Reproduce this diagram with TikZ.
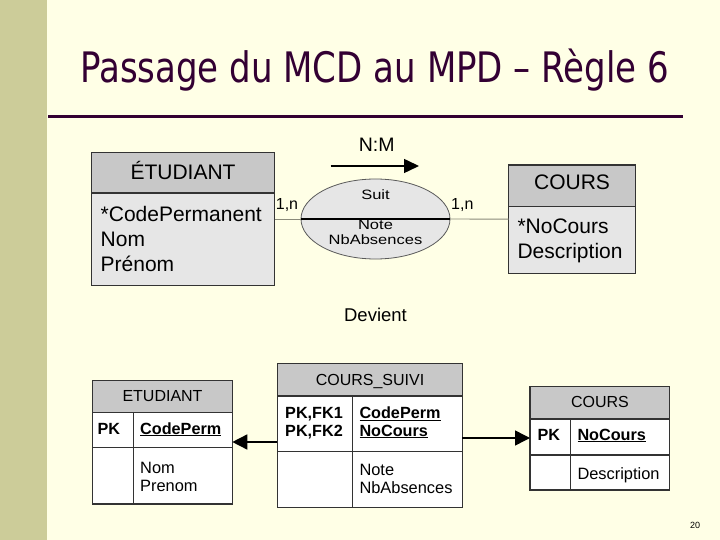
\documentclass[tikz,border=0pt]{standalone}
\usepackage{fontspec}
\setmainfont{Liberation Sans}
\newfontfamily\titlefont{DejaVu Sans}[FakeStretch=0.81]
\usetikzlibrary{arrows.meta,shapes.geometric}
\definecolor{bg}{HTML}{FFFFE6}
\definecolor{band}{HTML}{CCCC99}
\definecolor{titlecol}{HTML}{330033}
\definecolor{hdr}{HTML}{C8C8C8}
\definecolor{bodyc}{HTML}{E6E6E6}
\definecolor{edge}{HTML}{333333}
\definecolor{linkc}{HTML}{8A8A7A}
\newcommand{\fs}[1]{\fontsize{#1}{#1}\selectfont}
\newcommand{\squash}[1]{\scalebox{1}[0.82]{#1}}
\begin{document}
\begin{tikzpicture}[x=1pt,y=-1pt,
  boxc/.style={draw=edge, line width=1.3pt, anchor=north west, inner sep=0pt, outer sep=0pt},
  hd/.style={anchor=base, inner sep=0pt, font=\fs{21}},
  bt/.style={anchor=base west, inner sep=0pt, font=\fs{21}},
  thd/.style={anchor=base, inner sep=0pt, font=\fs{16}},
  tt/.style={anchor=base west, inner sep=0pt, font=\fs{16.4}},
  tb/.style={anchor=base west, inner sep=0pt, font=\bfseries\fs{16.2}},
  el/.style={anchor=base, inner sep=0pt, font=\fs{16.5}},
  fk/.style={-{Triangle[length=15pt,width=15pt]}, line width=1.5pt, black}
]
\fill[bg] (0,0) rectangle (720,540);
\useasboundingbox (0,0) rectangle (720,540);
\fill[band] (0,0) rectangle (47,540);
\node[anchor=base west, inner sep=0pt, text=titlecol, font=\titlefont\fs{42}] (title) at (80,83) {Passage du MCD au MPD – Règle 6};
\coordinate (r1) at (48,117);
\coordinate (r2) at (683,117);
\draw[titlecol, line width=3pt] (r1) -- (r2);

% ---- MCD ----
\node[boxc, fill=bodyc, minimum width=183pt, minimum height=133pt] (etu) at (91.5,152.5) {};
\node[boxc, fill=hdr, minimum width=183pt, minimum height=40.5pt] (etuh) at (91.5,152.5) {};
\node[hd] (etut) at (183,180) {ÉTUDIANT};
\node[bt] (etua1) at (100.5,221.7) {*CodePermanent};
\node[bt] (etua2) at (100.5,246.7) {Nom};
\node[bt] (etua3) at (100.5,271.5) {Prénom};

\node[boxc, fill=bodyc, minimum width=127pt, minimum height=108.3pt] (cou) at (508.5,165) {};
\node[boxc, fill=hdr, minimum width=127pt, minimum height=41.7pt] (couh) at (508.5,165) {};
\node[hd] (cout) at (572,190) {COURS};
\node[bt] (coua1) at (517.3,233.3) {*NoCours};
\node[bt] (coua2) at (517.3,258.3) {Description};

\node[ellipse, draw=gray!70!black, line width=0.8pt, fill=bodyc, minimum width=149pt, minimum height=80pt, inner sep=0pt, outer sep=0pt] (suit) at (375.5,219) {};
\draw[linkc, line width=0.9pt] (etu.east) -- (suit.west);
\draw[linkc, line width=0.9pt] (suit.east) -- (cou.west);
\draw[black, line width=1.2pt] (suit.west) -- (suit.east);
\node[el] (suitt) at (375.5,200) {\squash{Suit}};
\node[el] (suita1) at (375.5,229.5) {\squash{Note}};
\node[el] (suita2) at (375.5,244.5) {\squash{NbAbsences}};
\node[anchor=base west, inner sep=0pt, font=\fs{16}] (card1) at (275.7,210) {1,n};
\node[anchor=base west, inner sep=0pt, font=\fs{16}] (card2) at (451,210) {1,n};
\node[anchor=base, inner sep=0pt, font=\fs{19.5}] (nm) at (376.7,151.7) {N:M};
\coordinate (nm1) at (330.7,166);
\coordinate (nm2) at (419,166);
\draw[-{Triangle[length=15pt,width=14pt]}, line width=1.5pt] (nm1) -- (nm2);

\node[anchor=base, inner sep=0pt, font=\fs{18.5}] (devient) at (375.5,321.7) {Devient};

% ---- MPD ----
% ETUDIANT
\node[boxc, fill=white, minimum width=139.6pt, minimum height=123.3pt] (et2) at (92.7,380.7) {};
\node[boxc, fill=hdr, minimum width=139.6pt, minimum height=31.6pt] (et2h) at (92.7,380.7) {};
\draw[edge, line width=1.3pt] (92.7,447.3) -- (232.3,447.3);
\draw[edge, line width=1.3pt] (133.3,412.3) -- (133.3,504);
\node[thd] (et2t) at (162.5,401.7) {ETUDIANT};
\node[tb] (et2pk) at (97.3,434) {PK};
\node[tb] (et2k) at (140,434) {\underline{CodePerm}};
\node[tt] (et2a1) at (140,473.3) {Nom};
\node[tt] (et2a2) at (140,491.7) {Prenom};

% COURS_SUIVI
\node[boxc, fill=white, minimum width=185pt, minimum height=144pt] (cs) at (277.3,363.3) {};
\node[boxc, fill=hdr, minimum width=185pt, minimum height=32.7pt] (csh) at (277.3,363.3) {};
\draw[edge, line width=1.3pt] (277.3,451.7) -- (462.3,451.7);
\draw[edge, line width=1.3pt] (352.3,396) -- (352.3,507.3);
\node[thd] (cst) at (370,385) {COURS\_SUIVI};
\node[tb] (cspk1) at (285,418.3) {PK,FK1};
\node[tb] (cspk2) at (285,436) {PK,FK2};
\node[tb] (csk1) at (359.3,418.3) {\underline{CodePerm}};
\node[tb] (csk2) at (359.3,436) {\underline{NoCours}};
\node[tt] (csa1) at (359.3,475) {Note};
\node[tt] (csa2) at (359.3,493.3) {NbAbsences};

% COURS
\node[boxc, fill=white, minimum width=139.3pt, minimum height=103.3pt] (co2) at (530,386.7) {};
\node[boxc, fill=hdr, minimum width=139.3pt, minimum height=32.3pt] (co2h) at (530,386.7) {};
\draw[edge, line width=1.3pt] (530,455) -- (669.3,455);
\draw[edge, line width=1.3pt] (570.7,419) -- (570.7,490);
\node[thd] (co2t) at (600,407.7) {COURS};
\node[tb] (co2pk) at (537.3,440) {PK};
\node[tb] (co2k) at (577.3,440) {\underline{NoCours}};
\node[tt] (co2a1) at (577.3,479.3) {Description};

\coordinate (a1) at (cs.west |- 0,442);
\coordinate (a2) at (cs.east |- 0,438);
\draw[fk] (a1) -- (et2.east |- a1);
\draw[fk] (a2) -- (co2.west |- a2);

\node[anchor=base, inner sep=0pt, font=\fs{9}] (page) at (695,528.3) {20};
\end{tikzpicture}
\end{document}
